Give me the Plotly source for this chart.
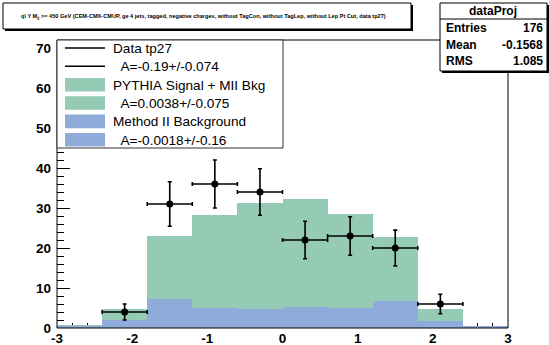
import plotly.graph_objects as go

# ---- data ----
bin_edges = [-3.0, -2.4, -1.8, -1.2, -0.6, 0.0, 0.6, 1.2, 1.8, 2.4, 3.0]
total_mc = [0.7, 4.7, 22.9, 28.3, 31.3, 32.2, 28.5, 22.8, 4.75, 0.6]      # PYTHIA signal + MII bkg (stack top)
bkg_mii = [0.45, 2.0, 7.2, 4.9, 4.7, 5.2, 4.9, 6.75, 1.8, 0.6]           # Method II background
data_x = [-2.1, -1.5, -0.9, -0.3, 0.3, 0.9, 1.5, 2.1]
data_y = [4, 31, 36, 34, 22, 23, 20, 6]
data_err = [2.0, 5.57, 6.0, 5.83, 4.69, 4.80, 4.47, 2.45]
data_xerr = [0.3, 0.3, 0.3, 0.3, 0.3, 0.3, 0.3, 0.3]
x_ticks = [-3, -2, -1, 0, 1, 2, 3]
y_ticks = [0, 10, 20, 30, 40, 50, 60, 70]

title_text = ("q\\ Y M<sub>jj</sub> >= 450 GeV (CEM-CMX-CMUP, ge 4 jets, tagged, negative charges, "
              "without TagCon, without TagLep, without Lep Pt Cut, data tp27)")
legend_labels = ["Data tp27", "  A=-0.19+/-0.074", "PYTHIA Signal + MII Bkg",
                 "  A=0.0038+/-0.075", "Method II Background", "  A=-0.0018+/-0.16"]
stats_name = "dataProj"
stats_rows = [("Entries", "176"), ("Mean", "-0.1568"), ("RMS", "1.085")]

GREEN = "#95cbb4"
BLUE = "#8eabd9"
FONT = "Liberation Sans"

# ---- geometry (pixels) ----
W, H = 549, 345
L, R, T, B = 57, 508, 40, 328


def fx(px):
    return (px - L) / (R - L)


def fy(py):
    return (B - py) / (B - T)


centers = [(bin_edges[i] + bin_edges[i + 1]) / 2 for i in range(len(bin_edges) - 1)]
widths = [bin_edges[i + 1] - bin_edges[i] for i in range(len(bin_edges) - 1)]

fig = go.Figure()
fig.add_trace(go.Bar(x=centers, y=total_mc, width=widths, marker=dict(color=GREEN, line=dict(width=0)),
                     showlegend=False))
fig.add_trace(go.Bar(x=centers, y=bkg_mii, width=widths, marker=dict(color=BLUE, line=dict(width=0)),
                     showlegend=False))
fig.add_trace(go.Scatter(
    x=data_x, y=data_y, mode="markers",
    marker=dict(color="black", size=7),
    error_y=dict(type="data", array=data_err, color="black", thickness=1.6, width=2),
    error_x=dict(type="data", array=data_xerr, color="black", thickness=1.6, width=2),
    showlegend=False, cliponaxis=False))

shapes = []
annotations = []

# frame
shapes.append(dict(type="rect", xref="paper", yref="paper", x0=0, x1=1, y0=0, y1=1,
                   line=dict(color="black", width=1), layer="above"))

# title box with shadow
shapes.append(dict(type="rect", xref="paper", yref="paper", x0=fx(5), x1=fx(413), y0=fy(31), y1=fy(5),
                   fillcolor="black", line=dict(width=0), layer="above"))
shapes.append(dict(type="rect", xref="paper", yref="paper", x0=fx(3), x1=fx(411), y0=fy(29), y1=fy(3),
                   fillcolor="white", line=dict(color="black", width=1), layer="above"))
annotations.append(dict(xref="paper", yref="paper", x=fx(203), y=fy(16), text="<b>" + title_text + "</b>",
                        showarrow=False, font=dict(family=FONT, size=5.6, color="black"),
                        xanchor="center", yanchor="middle"))

# stats box with shadow
shapes.append(dict(type="rect", xref="paper", yref="paper", x0=fx(442), x1=fx(549), y0=fy(73), y1=fy(5),
                   fillcolor="black", line=dict(width=0), layer="above"))
shapes.append(dict(type="rect", xref="paper", yref="paper", x0=fx(440), x1=fx(547), y0=fy(71), y1=fy(3),
                   fillcolor="white", line=dict(color="black", width=1), layer="above"))
shapes.append(dict(type="line", xref="paper", yref="paper", x0=fx(440), x1=fx(547), y0=fy(19), y1=fy(19),
                   line=dict(color="black", width=1), layer="above"))
annotations.append(dict(xref="paper", yref="paper", x=fx(493), y=fy(11), text="<b>" + stats_name + "</b>",
                        showarrow=False, font=dict(family=FONT, size=12, color="black"),
                        xanchor="center", yanchor="middle"))
for i, (k, v) in enumerate(stats_rows):
    yy = 28 + i * 16.5
    annotations.append(dict(xref="paper", yref="paper", x=fx(444), y=fy(yy), text="<b>" + k + "</b>",
                            showarrow=False, font=dict(family=FONT, size=12, color="black"),
                            xanchor="left", yanchor="middle"))
    annotations.append(dict(xref="paper", yref="paper", x=fx(545), y=fy(yy), text="<b>" + v + "</b>",
                            showarrow=False, font=dict(family=FONT, size=12, color="black"),
                            xanchor="right", yanchor="middle"))

# legend box
shapes.append(dict(type="rect", xref="paper", yref="paper", x0=fx(57), x1=fx(283), y0=fy(148), y1=fy(40),
                   fillcolor="white", line=dict(color="#333333", width=1), layer="above"))
kinds = ["line", "line", GREEN, GREEN, BLUE, BLUE]
for i, (lab, kind) in enumerate(zip(legend_labels, kinds)):
    yc = 48 + i * 18.35
    if kind == "line":
        shapes.append(dict(type="line", xref="paper", yref="paper", x0=fx(65), x1=fx(105), y0=fy(yc), y1=fy(yc),
                           line=dict(color="black", width=1.5), layer="above"))
    else:
        shapes.append(dict(type="rect", xref="paper", yref="paper", x0=fx(65), x1=fx(105),
                           y0=fy(yc + 6.8), y1=fy(yc - 6.8), fillcolor=kind, line=dict(width=0), layer="above"))
    annotations.append(dict(xref="paper", yref="paper", x=fx(111), y=fy(yc + 0.5), text=lab.replace(" ", "&nbsp;"),
                            showarrow=False, font=dict(family=FONT, size=13.6, color="black"),
                            xanchor="left", yanchor="middle"))

fig.update_layout(
    width=W, height=H,
    margin=dict(l=L, r=W - R, t=T, b=H - B, pad=0, autoexpand=False),
    paper_bgcolor="white", plot_bgcolor="white",
    barmode="overlay", bargap=0,
    showlegend=False,
    shapes=shapes, annotations=annotations,
    xaxis=dict(range=[-3, 3], tickvals=x_ticks, ticktext=[str(v) for v in x_ticks],
               ticks="inside", ticklen=9, tickcolor="black", tickwidth=1,
               minor=dict(dtick=0.2, tick0=0, ticks="inside", ticklen=5, tickcolor="black", showgrid=False),
               showgrid=False, zeroline=False, showline=False, layer="below traces", automargin=False,
               tickfont=dict(family=FONT, size=13.5, color="black", weight="bold"),
               ticklabelstandoff=0),
    yaxis=dict(range=[0, 72], tickvals=y_ticks, ticktext=[str(v) for v in y_ticks],
               ticks="inside", ticklen=13, tickcolor="black", tickwidth=1,
               minor=dict(dtick=2, tick0=0, ticks="inside", ticklen=7, tickcolor="black", showgrid=False),
               showgrid=False, zeroline=False, showline=False, layer="below traces", automargin=False,
               tickfont=dict(family=FONT, size=13.5, color="black", weight="bold"),
               ticklabelstandoff=5),
)

fig.write_html("out.html", config={"displayModeBar": False, "staticPlot": True},
               post_script="document.body.style.margin='0';document.body.style.padding='0';"
                           "document.body.style.overflow='hidden';")
